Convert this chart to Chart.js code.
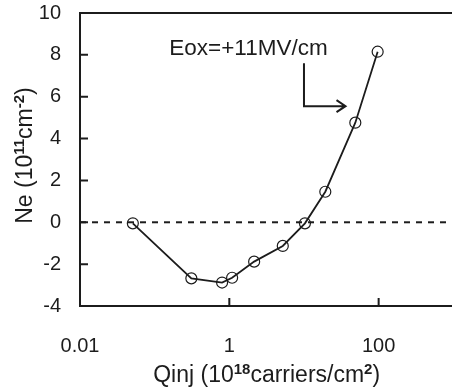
<!DOCTYPE html>
<html>
<head>
<meta charset="utf-8">
<script src="https://cdn.jsdelivr.net/npm/chart.js@4.4.1/dist/chart.umd.min.js"></script>
<style>
  html, body { margin: 0; padding: 0; background: #fff; overflow: hidden; }
  #wrap { width: 460px; height: 392px; }
</style>
</head>
<body>
<div id="wrap"><canvas id="chart" width="460" height="392"></canvas></div>
<script>
// injected charge (1e18 carriers/cm2) vs trapped electron density (1e11 cm-2)
const qinj = [0.051, 0.31, 0.80, 1.09, 2.15, 5.2, 10.3, 19.3, 48.7, 97];
const ne = [-0.05, -2.68, -2.88, -2.65, -1.88, -1.13, -0.05, 1.46, 4.76, 8.15];

const xTicks = [0.01, 1, 100];
const xLabels = ["0.01", "1", "100"];
const yTicks = [-4, -2, 0, 2, 4, 6, 8, 10];

const INK = "#1c1c1c";
const FONT = "'Liberation Sans', Arial, sans-serif";

// text made of normal + bold superscript pieces
function runsWidth(ctx, runs) {
  let w = 0;
  for (const r of runs) {
    ctx.font = r.sup ? `bold 15px ${FONT}` : `23px ${FONT}`;
    w += ctx.measureText(r.t).width;
  }
  return w;
}
function drawRuns(ctx, runs, cx, baseline) {
  let x = cx - runsWidth(ctx, runs) / 2;
  ctx.textAlign = "left";
  ctx.textBaseline = "alphabetic";
  for (const r of runs) {
    ctx.font = r.sup ? `bold 15px ${FONT}` : `23px ${FONT}`;
    ctx.fillText(r.t, x, r.sup ? baseline - 8 : baseline);
    x += ctx.measureText(r.t).width;
  }
}

const frame = {
  id: "frame",
  afterDatasetsDraw(chart) {
    const { ctx, chartArea: a, scales: { x, y } } = chart;
    ctx.save();
    ctx.strokeStyle = INK;
    ctx.fillStyle = INK;
    ctx.lineWidth = 2;

    // top, left and bottom edges
    ctx.beginPath();
    ctx.moveTo(a.right, a.top);
    ctx.lineTo(a.left, a.top);
    ctx.lineTo(a.left, a.bottom);
    ctx.lineTo(a.right, a.bottom);
    ctx.stroke();

    // inward tick marks
    ctx.beginPath();
    yTicks.slice(1, -1).forEach(v => {
      const py = y.getPixelForValue(v);
      ctx.moveTo(a.left, py);
      ctx.lineTo(a.left + 8, py);
    });
    xTicks.slice(1).forEach(v => {
      const px = x.getPixelForValue(v);
      ctx.moveTo(px, a.bottom);
      ctx.lineTo(px, a.bottom - 8);
    });
    ctx.stroke();

    // field label with bent arrow
    ctx.font = `22.5px ${FONT}`;
    ctx.textAlign = "left";
    ctx.textBaseline = "alphabetic";
    ctx.fillText("Eox=+11MV/cm", x.getPixelForValue(0.157), y.getPixelForValue(8));

    const ax = x.getPixelForValue(10);
    const ay0 = y.getPixelForValue(7.6);
    const ay1 = y.getPixelForValue(5.55);
    const ax1 = x.getPixelForValue(36);
    ctx.beginPath();
    ctx.moveTo(ax, ay0);
    ctx.lineTo(ax, ay1);
    ctx.lineTo(ax1, ay1);
    ctx.moveTo(ax1 - 9, ay1 - 6);
    ctx.lineTo(ax1, ay1);
    ctx.lineTo(ax1 - 9, ay1 + 6);
    ctx.stroke();

    // axis titles
    drawRuns(ctx, [
      { t: "Qinj (10" }, { t: "18", sup: true }, { t: "carriers/cm" },
      { t: "2", sup: true }, { t: ")" }
    ], (a.left + a.right) / 2, 382);

    ctx.translate(32, (a.top + a.bottom) / 2 - 4);
    ctx.rotate(-Math.PI / 2);
    drawRuns(ctx, [
      { t: "Ne (10" }, { t: "11", sup: true }, { t: "cm" },
      { t: "-2", sup: true }, { t: ")" }
    ], 0, 0);
    ctx.restore();
  }
};

new Chart(document.getElementById("chart"), {
  type: "line",
  data: {
    datasets: [
      {
        data: qinj.map((q, i) => ({ x: q, y: ne[i] })),
        borderColor: INK,
        borderWidth: 1.8,
        pointRadius: 5.5,
        pointBorderWidth: 1.2,
        pointBorderColor: INK,
        pointBackgroundColor: "rgba(0,0,0,0)",
        tension: 0,
        order: 1
      },
      {
        // zero reference
        data: [{ x: 0.01, y: 0 }, { x: 1000, y: 0 }],
        borderColor: INK,
        borderWidth: 2,
        borderDash: [6, 6],
        pointRadius: 0,
        order: 2
      }
    ]
  },
  options: {
    responsive: false,
    devicePixelRatio: 1,
    animation: false,
    layout: { padding: { top: 13, right: 3, left: 0, bottom: 0 } },
    plugins: { legend: { display: false }, tooltip: { enabled: false } },
    scales: {
      x: {
        type: "logarithmic",
        min: 0.01,
        max: 1000,
        border: { display: false },
        grid: { display: false, drawTicks: false },
        afterBuildTicks: s => { s.ticks = xTicks.map(v => ({ value: v })); },
        afterFit: s => { s.height = 86; s.paddingLeft = 0; s.paddingRight = 0; },
        ticks: {
          autoSkip: false,
          maxRotation: 0,
          padding: 28,
          color: INK,
          font: { family: FONT, size: 20 },
          callback: v => xLabels[xTicks.indexOf(v)] ?? ""
        }
      },
      y: {
        min: -4,
        max: 10,
        border: { display: false },
        grid: { display: false, drawTicks: false },
        afterBuildTicks: s => { s.ticks = yTicks.map(v => ({ value: v })); },
        afterFit: s => { s.width = 80; s.paddingTop = 0; s.paddingBottom = 0; },
        ticks: {
          padding: 19,
          color: INK,
          font: { family: FONT, size: 20 }
        }
      }
    }
  },
  plugins: [frame]
});
</script>
</body>
</html>
